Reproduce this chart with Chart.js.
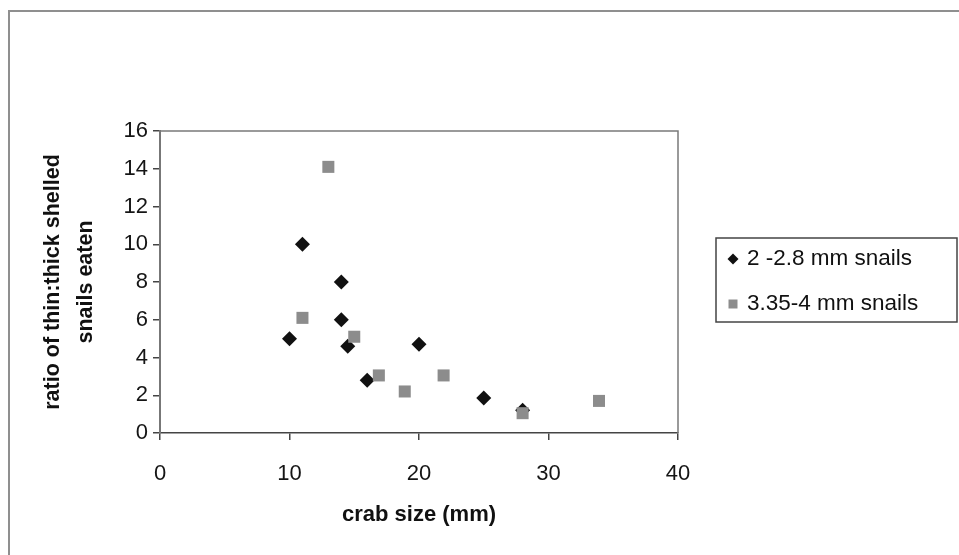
<!DOCTYPE html>
<html><head><meta charset="utf-8">
<script src="https://cdn.jsdelivr.net/npm/chart.js@4/dist/chart.umd.min.js"></script>
<style>html,body{margin:0;padding:0;background:#fff;overflow:hidden}#wrap{position:relative;width:959px;height:555px}</style>
</head><body><div id="wrap"><canvas id="c" width="959" height="555"></canvas></div>
<script>
// Data
const smallSnailCrab  = [10, 11, 14, 14, 14.5, 16, 20, 25, 28];
const smallSnailRatio = [5, 10, 8, 6, 4.6, 2.8, 4.7, 1.85, 1.2];
const largeSnailCrab  = [11, 13, 15, 16.9, 18.9, 21.9, 28, 33.9];
const largeSnailRatio = [6.1, 14.1, 5.1, 3.05, 2.2, 3.05, 1.05, 1.7];
const seriesLabels = ['2 -2.8 mm snails', '3.35-4 mm snails'];
const xTitle = 'crab size (mm)';
const yTitle = ['ratio of thin:thick shelled', 'snails eaten'];
const xTicks = [0, 10, 20, 30, 40];
const yTicks = [0, 2, 4, 6, 8, 10, 12, 14, 16];

const FONT = "'Liberation Sans', Arial, sans-serif";
const toPts = (xs, ys) => xs.map((x, i) => ({x: x, y: ys[i]}));

const framePlugin = {
  id: 'frame',
  beforeDraw(chart) {
    const ctx = chart.ctx;
    ctx.save();
    ctx.fillStyle = '#fff';
    ctx.fillRect(0, 0, chart.width, chart.height);
    ctx.strokeStyle = '#8f8f8f';
    ctx.lineWidth = 2;
    ctx.strokeRect(9, 11, chart.width + 20, chart.height + 20);
    ctx.restore();
  },
  beforeDatasetsDraw(chart) {
    const ctx = chart.ctx, a = chart.chartArea;
    ctx.save();
    ctx.strokeStyle = '#7a7a7a';
    ctx.lineWidth = 1.5;
    ctx.beginPath();
    ctx.moveTo(a.left, a.top);
    ctx.lineTo(a.right, a.top);
    ctx.lineTo(a.right, a.bottom);
    ctx.stroke();
    ctx.restore();
  },
  afterDraw(chart) {
    const ctx = chart.ctx;
    ctx.save();
    ctx.strokeStyle = '#444';
    ctx.lineWidth = 1.5;
    ctx.strokeRect(716, 238, 241, 84);
    const rows = [259, 304];
    chart.data.datasets.forEach((ds, i) => {
      const y = rows[i], x = 733;
      ctx.fillStyle = ds.backgroundColor;
      ctx.beginPath();
      if (ds.pointStyle === 'rectRot') {
        ctx.moveTo(x, y - 5.5); ctx.lineTo(x + 5.5, y); ctx.lineTo(x, y + 5.5); ctx.lineTo(x - 5.5, y);
      } else {
        ctx.rect(x - 4.5, y - 4.5, 9, 9);
      }
      ctx.closePath();
      ctx.fill();
      ctx.fillStyle = '#111';
      ctx.font = '22.5px ' + FONT;
      ctx.textBaseline = 'middle';
      ctx.textAlign = 'left';
      ctx.fillText(ds.label, 747, y);
    });
    ctx.restore();
  }
};

new Chart(document.getElementById('c'), {
  type: 'scatter',
  data: {
    datasets: [
      {label: seriesLabels[0], data: toPts(smallSnailCrab, smallSnailRatio), pointStyle: 'rectRot',
       pointRadius: 7.5, backgroundColor: '#111', borderColor: '#111', borderWidth: 0, order: 1},
      {label: seriesLabels[1], data: toPts(largeSnailCrab, largeSnailRatio), pointStyle: 'rect',
       pointRadius: 8.5, backgroundColor: '#8c8c8c', borderColor: '#8c8c8c', borderWidth: 0, order: 0}
    ]
  },
  options: {
    responsive: false,
    animation: false,
    devicePixelRatio: 1,
    events: [],
    layout: {padding: {top: 131, right: 281, left: 0, bottom: 0}},
    plugins: {legend: {display: false}, tooltip: {enabled: false}},
    scales: {
      x: {
        type: 'linear', min: 0, max: 40,
        afterBuildTicks: s => { s.ticks = xTicks.map(v => ({value: v})); },
        afterFit: s => { s.height = 122; },
        ticks: {font: {family: FONT, size: 22}, color: '#151515', padding: 21, maxRotation: 0},
        grid: {display: true, drawOnChartArea: false, drawTicks: true, tickLength: 7, color: '#444', lineWidth: 1.5},
        border: {display: true, color: '#444', width: 1.5},
        title: {display: true, text: xTitle, color: '#111', font: {family: FONT, size: 22, weight: 'bold'}, padding: {top: 0, bottom: 27}}
      },
      y: {
        type: 'linear', min: 0, max: 16,
        afterBuildTicks: s => { s.ticks = yTicks.map(v => ({value: v})); },
        afterFit: s => { s.width = 160; },
        ticks: {font: {family: FONT, size: 22}, color: '#151515', padding: 5},
        grid: {display: true, drawOnChartArea: false, drawTicks: true, tickLength: 7, color: '#444', lineWidth: 1.5},
        border: {display: true, color: '#777', width: 2},
        title: {display: true, text: yTitle, color: '#111', font: {family: FONT, size: 21.5, weight: 'bold', lineHeight: 1.55}, padding: {top: 36, bottom: 0}}
      }
    }
  },
  plugins: [framePlugin]
});
</script>
</body></html>
